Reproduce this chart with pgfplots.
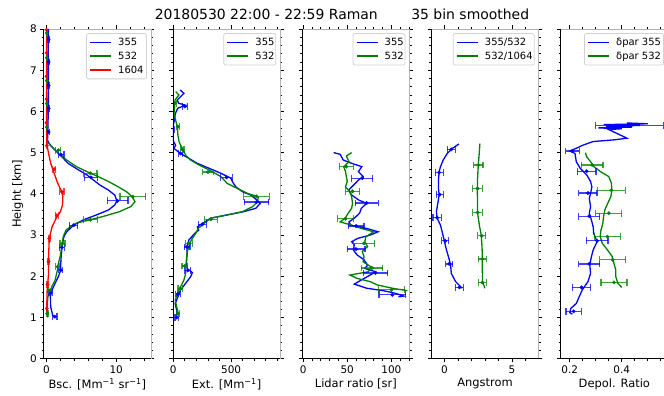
\documentclass[border=0pt]{standalone}
\usepackage{pgfplots}
\pgfplotsset{compat=1.18}
\usepackage{fontspec}
\setmainfont{DejaVu Sans}
\definecolor{mblue}{RGB}{0,0,255}
\definecolor{mgreen}{RGB}{0,128,0}
\definecolor{mred}{RGB}{255,0,0}
\pgfplotsset{
  panel/.style={
    scale only axis, width=107.3bp, height=329.7bp, anchor=south west,
    ymin=0, ymax=8, ytick={0,1,...,8}, minor y tick num=4,
    tick align=outside, major tick length=3.5bp, minor tick length=2bp,
    every tick/.style={black, line width=0.8bp},
    axis line style={gray!60, line width=0.8bp},
    tick label style={font=\fontsize{10.5}{12}\selectfont},
    label style={font=\fontsize{11.5}{13}\selectfont},
    /pgf/number format/assume math mode=true,
    xlabel style={yshift=2bp},
  },
  ln/.style={color=#1, line width=1.3bp, no marks},
  eb/.style={color=#1, only marks, mark=*, mark size=1.7bp, forget plot,
    error bars/.cd, x dir=both, x explicit,
    error bar style={color=#1, line width=1.2bp, opacity=0.75},
    error mark options={color=#1, rotate=90, mark size=3.4bp, line width=1.2bp, opacity=0.75}},
}
\newcommand{\spines}[1]{\draw[black, line width=0.8bp] (#1.north west) -- (#1.south west) -- (#1.south east);}
% legend frame: left, right, bottom (top fixed at 362.5bp)
\newcommand{\legframe}[3]{\draw[gray!35, fill=white, line width=0.8bp, rounded corners=2bp] (#1bp,#3bp) rectangle (#2bp,362.5bp);}
% legend row: left, y, color, text
\newcommand{\legrow}[4]{%
  \node[anchor=base west, inner sep=0pt, font=\fontsize{10}{12}\selectfont] at ({#1bp+31.5bp},{#2bp-3.6bp}) {#4};
  \draw[color=#3, line width=1.5bp] ({#1bp+3.5bp},#2bp) -- ({#1bp+24.5bp},#2bp);}
\begin{document}
\begin{tikzpicture}
% Panel 1: Backscatter
\begin{axis}[panel, name=p1, at={(43.7bp,37.3bp)},
  xmin=-0.4, xmax=15, xtick={0,10}, minor xtick={2,4,6,8,12,14},
  xlabel={Bsc. [Mm\textsuperscript{−1} sr\textsuperscript{−1}]}, ylabel={Height [km]}]
\addplot[ln=mblue] coordinates {(1.2,1.0) (0.9,1.05) (0.6,1.26) (0.55,1.5) (0.8,1.67) (1.24,1.83) (1.7,1.99) (2.05,2.15) (2.05,2.31) (2.1,2.47) (2.2,2.64) (2.3,2.8) (2.5,2.96) (2.9,3.08) (3.4,3.16) (3.9,3.24) (5.3,3.37) (7.2,3.49) (8.9,3.61) (9.8,3.73) (10.1,3.83) (9.8,3.97) (8.9,4.09) (7.7,4.21) (6.7,4.34) (5.8,4.46) (4.6,4.58) (3.1,4.74) (2.2,4.9) (1.24,5.06) (0.5,5.19) (0.15,5.3) (0.2,5.5) (0.25,6.0) (0.3,6.5) (0.3,7.0) (0.25,7.5) (0.3,8.0)};
\addplot[ln=mgreen] coordinates {(0.05,1.1) (0.1,1.26) (0.2,1.5) (0.77,1.75) (1.24,1.91) (1.57,2.15) (1.7,2.31) (1.95,2.47) (2.2,2.72) (2.4,2.96) (2.8,3.12) (3.4,3.2) (4.3,3.29) (6.2,3.37) (8.1,3.45) (10.5,3.57) (12.1,3.69) (12.7,3.81) (12.3,3.93) (11.5,4.05) (10.3,4.17) (8.9,4.3) (7.4,4.42) (5.8,4.54) (4.3,4.66) (2.9,4.82) (1.7,4.98) (0.8,5.14) (0.1,5.26) (0.05,5.6) (0.1,6.0) (0.05,6.5) (0.1,7.0) (0.05,7.5) (0.1,8.0)};
\addplot[ln=mred] coordinates {(0.15,1.0) (0.05,1.34) (0.1,1.67) (0.3,2.07) (0.3,2.47) (0.4,2.92) (0.8,3.2) (1.4,3.41) (2.0,3.57) (2.3,3.73) (2.35,3.93) (2.2,4.05) (1.6,4.26) (1.1,4.5) (0.6,4.74) (0.3,4.98) (0.05,5.2) (0.0,5.6) (0.0,6.5) (0.0,7.5) (0.0,8.0)};
\addplot[eb=mblue] coordinates {(1.2,1.02) +- (0.3,0) (0.6,1.6) +- (0.25,0) (2.05,2.15) +- (0.3,0) (2.2,2.7) +- (0.35,0) (3.9,3.24) +- (0.6,0) (10.2,3.83) +- (1.5,0) (6.4,4.4) +- (0.95,0) (2.1,4.95) +- (0.4,0) (0.3,5.5) +- (0.15,0) (0.3,6.07) +- (0.12,0) (0.3,6.63) +- (0.12,0) (0.3,7.2) +- (0.1,0) (0.3,7.75) +- (0.1,0)};
\addplot[eb=mgreen] coordinates {(0.1,1.1) +- (0.15,0) (0.5,1.66) +- (0.2,0) (1.6,2.23) +- (0.3,0) (2.3,2.8) +- (0.35,0) (6.3,3.37) +- (1.0,0) (12.4,3.93) +- (1.85,0) (6.3,4.5) +- (0.95,0) (1.7,5.06) +- (0.35,0) (0.05,5.62) +- (0.08,0) (0.05,6.19) +- (0.08,0) (0.05,6.75) +- (0.08,0) (0.05,7.3) +- (0.08,0) (0.05,7.9) +- (0.08,0)};
\addplot[eb=mred] coordinates {(0.05,1.22) +- (0.08,0) (0.15,1.8) +- (0.1,0) (0.3,2.36) +- (0.12,0) (0.4,2.92) +- (0.15,0) (1.5,3.48) +- (0.25,0) (2.2,4.05) +- (0.3,0) (1.1,4.6) +- (0.25,0) (0.05,5.17) +- (0.1,0) (0.0,5.73) +- (0.05,0) (0.0,6.3) +- (0.05,0) (0.0,6.85) +- (0.05,0) (0.0,7.42) +- (0.05,0) (0.0,7.98) +- (0.05,0)};
\end{axis}
\spines{p1}
\legframe{86.5}{146.5}{317.1}
\legrow{86.5}{353.6}{mblue}{355}
\legrow{86.5}{339.8}{mgreen}{532}
\legrow{86.5}{326.0}{mred}{1604}
% Panel 2: Extinction
\begin{axis}[panel, name=p2, at={(172.95bp,37.3bp)}, yticklabels={},
  xmin=-3, xmax=925, xtick={0,500}, minor xtick={100,200,300,400,600,700,800,900},
  xlabel={Ext. [Mm\textsuperscript{−1}]}]
\addplot[ln=mblue] coordinates {(29,1.0) (29,1.18) (16,1.34) (40,1.5) (63,1.67) (107,1.83) (150,1.99) (165,2.09) (120,2.19) (114,2.35) (120,2.56) (118,2.72) (135,2.88) (185,3.04) (220,3.12) (208,3.2) (250,3.28) (324,3.41) (468,3.49) (613,3.57) (714,3.65) (752,3.77) (723,3.85) (671,3.97) (599,4.05) (541,4.17) (512,4.29) (498,4.38) (411,4.5) (310,4.62) (208,4.74) (135,4.86) (63,4.98) (6,5.1) (20,5.18) (6,5.25) (-10,5.4) (-5,5.6) (10,5.8) (15,5.91) (25,6.0) (40,6.08) (107,6.15) (45,6.2) (35,6.28) (92,6.44) (58,6.52)};
\addplot[ln=mgreen] coordinates {(40,1.14) (29,1.26) (17,1.42) (35,1.58) (63,1.75) (92,1.91) (107,2.07) (107,2.23) (114,2.4) (118,2.56) (135,2.72) (156,2.88) (194,3.04) (215,3.16) (266,3.28) (324,3.41) (468,3.49) (600,3.57) (686,3.69) (729,3.81) (735,3.93) (642,4.01) (555,4.13) (468,4.25) (411,4.42) (310,4.58) (222,4.7) (150,4.82) (107,4.94) (78,5.1) (50,5.26) (40,5.42) (35,5.63) (20,5.79) (6,5.95) (12,6.12) (15,6.28) (49,6.4) (20,6.48)};
\addplot[eb=mblue] coordinates {(29,1.0) +- (15,0) (40,1.57) +- (20,0) (125,2.14) +- (25,0) (120,2.71) +- (25,0) (250,3.26) +- (35,0) (720,3.8) +- (105,0) (460,4.4) +- (50,0) (63,4.98) +- (15,0) (-5,5.56) +- (15,0) (100,6.12) +- (20,0)};
\addplot[eb=mgreen] coordinates {(40,1.1) +- (15,0) (60,1.7) +- (20,0) (100,2.25) +- (25,0) (135,2.8) +- (30,0) (325,3.38) +- (55,0) (720,3.94) +- (110,0) (300,4.53) +- (45,0) (78,5.08) +- (15,0) (40,5.63) +- (15,0) (15,6.2) +- (12,0)};
\end{axis}
\spines{p2}
\legframe{223.75}{275.75}{330.9}
\legrow{223.75}{353.6}{mblue}{355}
\legrow{223.75}{339.8}{mgreen}{532}
% Panel 3: Lidar ratio
\begin{axis}[panel, name=p3, at={(302.2bp,37.3bp)}, yticklabels={},
  xmin=-1, xmax=120.5, xtick={0,50,100}, minor xtick={10,20,30,40,60,70,80,90,110,120},
  xlabel={Lidar ratio [sr]}]
\addplot[ln=mblue] coordinates {(34.6,5.0) (42,4.96) (45.5,4.82) (55,4.74) (66.5,4.66) (62.7,4.54) (68,4.42) (63,4.34) (57,4.21) (51.5,4.09) (55,3.97) (63,3.85) (72,3.77) (66,3.65) (64,3.53) (58,3.41) (52,3.32) (54,3.24) (72,3.16) (85,3.08) (76,3.0) (62,2.92) (55,2.84) (58,2.76) (57,2.64) (61,2.52) (69,2.4) (73,2.27) (70,2.19) (82,2.11) (76,2.03) (66,1.91) (58,1.81) (72,1.71) (91,1.65) (104,1.59) (114,1.52) (108,1.5)};
\addplot[ln=mgreen] coordinates {(55,5.0) (49,4.92) (52,4.78) (46,4.66) (48,4.54) (49,4.42) (50,4.3) (48,4.17) (53,4.05) (55,3.93) (56,3.77) (55,3.65) (51,3.53) (47.8,3.41) (42,3.32) (55,3.24) (66,3.16) (80,3.08) (71,2.96) (70,2.84) (73,2.72) (67,2.6) (69,2.48) (68,2.35) (77,2.23) (74,2.11) (53,2.03) (61,1.95) (76,1.87) (84,1.79) (101,1.71) (118,1.65)};
\addplot[eb=mblue] coordinates {(67,4.38) +- (12,0) (72,3.78) +- (13,0) (60,3.22) +- (9,0) (60,2.66) +- (10,0) (82,2.08) +- (14,0) (101,1.55) +- (15,0)};
\addplot[eb=mgreen] coordinates {(49,4.66) +- (8,0) (56,4.06) +- (8,0) (48,3.4) +- (9,0) (69,2.8) +- (12,0) (78,2.2) +- (12,0) (100,1.67) +- (15,0)};
\end{axis}
\spines{p3}
\legframe{353}{405}{330.9}
\legrow{353}{353.6}{mblue}{355}
\legrow{353}{339.8}{mgreen}{532}
% Panel 4: Angstrom
\begin{axis}[panel, name=p4, at={(431.45bp,37.3bp)}, yticklabels={},
  xmin=-0.97, xmax=6.98, xtick={0,5}, minor xtick={1,2,3,4,6},
  xlabel={Angstrom}]
\addplot[ln=mblue] coordinates {(1.06,5.21) (0.57,5.1) (0.2,4.98) (-0.1,4.82) (-0.3,4.66) (-0.4,4.54) (-0.45,4.34) (-0.45,4.13) (-0.4,3.97) (-0.5,3.77) (-0.6,3.57) (-0.55,3.41) (-0.3,3.24) (-0.15,3.04) (0.0,2.84) (0.14,2.64) (0.32,2.44) (0.45,2.27) (0.5,2.07) (0.82,1.87) (1.31,1.71)};
\addplot[ln=mgreen] coordinates {(2.62,5.22) (2.55,4.9) (2.5,4.7) (2.45,4.4) (2.43,4.09) (2.44,3.8) (2.45,3.53) (2.6,3.2) (2.72,3.0) (2.78,2.7) (2.8,2.44) (2.8,2.15) (2.82,1.87) (2.99,1.71)};
\addplot[eb=mblue] coordinates {(0.5,5.08) +- (0.3,0) (-0.4,4.52) +- (0.3,0) (-0.35,3.98) +- (0.25,0) (-0.55,3.42) +- (0.3,0) (0.05,2.86) +- (0.25,0) (0.35,2.3) +- (0.25,0) (1.1,1.73) +- (0.3,0)};
\addplot[eb=mgreen] coordinates {(2.5,4.7) +- (0.35,0) (2.45,4.13) +- (0.35,0) (2.45,3.55) +- (0.35,0) (2.75,2.98) +- (0.3,0) (2.8,2.42) +- (0.3,0) (2.8,1.85) +- (0.3,0)};
\end{axis}
\spines{p4}
\legframe{453.25}{534.25}{330.9}
\legrow{453.25}{353.6}{mblue}{355/532}
\legrow{453.25}{339.8}{mgreen}{532/1064}
% Panel 5: Depol
\begin{axis}[panel, name=p5, at={(560.7bp,37.3bp)}, yticklabels={},
  xmin=0.165, xmax=0.578, xtick={0.2,0.4}, minor xtick={0.25,0.3,0.35,0.45,0.5,0.55},
  xticklabel style={/pgf/number format/.cd, fixed, precision=1},
  xlabel={Depol. Ratio}]
\addplot[ln=mblue] coordinates {(0.42,5.72) (0.5,5.70) (0.33,5.68) (0.47,5.66) (0.34,5.64) (0.44,5.62) (0.31,5.6) (0.4,5.58) (0.35,5.56) (0.42,5.35) (0.37,5.31) (0.29,5.27) (0.25,5.18) (0.23,5.12) (0.2,5.04) (0.22,4.98) (0.225,4.78) (0.24,4.62) (0.265,4.46) (0.28,4.3) (0.285,4.17) (0.28,4.01) (0.275,3.89) (0.28,3.69) (0.275,3.53) (0.283,3.37) (0.29,3.2) (0.292,3.04) (0.305,2.84) (0.29,2.64) (0.283,2.47) (0.277,2.27) (0.28,2.07) (0.27,1.87) (0.248,1.67) (0.236,1.5) (0.225,1.34) (0.204,1.22) (0.2,1.12) (0.21,1.08)};
\addplot[ln=mgreen] coordinates {(0.26,5.0) (0.265,4.9) (0.28,4.78) (0.293,4.66) (0.318,4.54) (0.35,4.42) (0.36,4.26) (0.362,4.09) (0.358,3.93) (0.346,3.77) (0.335,3.61) (0.33,3.45) (0.327,3.28) (0.32,3.12) (0.317,2.96) (0.325,2.8) (0.345,2.64) (0.363,2.48) (0.37,2.31) (0.377,2.15) (0.377,1.99) (0.385,1.83) (0.4,1.73)};
\addplot[eb=mblue] coordinates {(0.43,5.65) +- (0.13,0) (0.21,5.04) +- (0.026,0) (0.265,4.55) +- (0.036,0) (0.27,4.02) +- (0.035,0) (0.275,3.46) +- (0.04,0) (0.305,2.86) +- (0.042,0) (0.275,2.3) +- (0.04,0) (0.245,1.73) +- (0.036,0) (0.215,1.15) +- (0.03,0)};
\addplot[eb=mgreen] coordinates {(0.286,4.7) +- (0.042,0) (0.36,4.09) +- (0.053,0) (0.35,3.53) +- (0.05,0) (0.345,2.96) +- (0.05,0) (0.365,2.4) +- (0.05,0) (0.37,1.85) +- (0.05,0)};
\end{axis}
\spines{p5}
\legframe{584.5}{663.5}{330.9}
\legrow{584.5}{353.6}{mblue}{δpar 355}
\legrow{584.5}{339.8}{mgreen}{δpar 532}
\node[font=\fontsize{14}{16}\selectfont] at (342bp,382bp) {20180530 22:00 - 22:59 Raman\hspace{2.4em}35 bin smoothed};
\pgfresetboundingbox
\path[use as bounding box] (0,0) rectangle (664bp,396bp);
\end{tikzpicture}
\end{document}
